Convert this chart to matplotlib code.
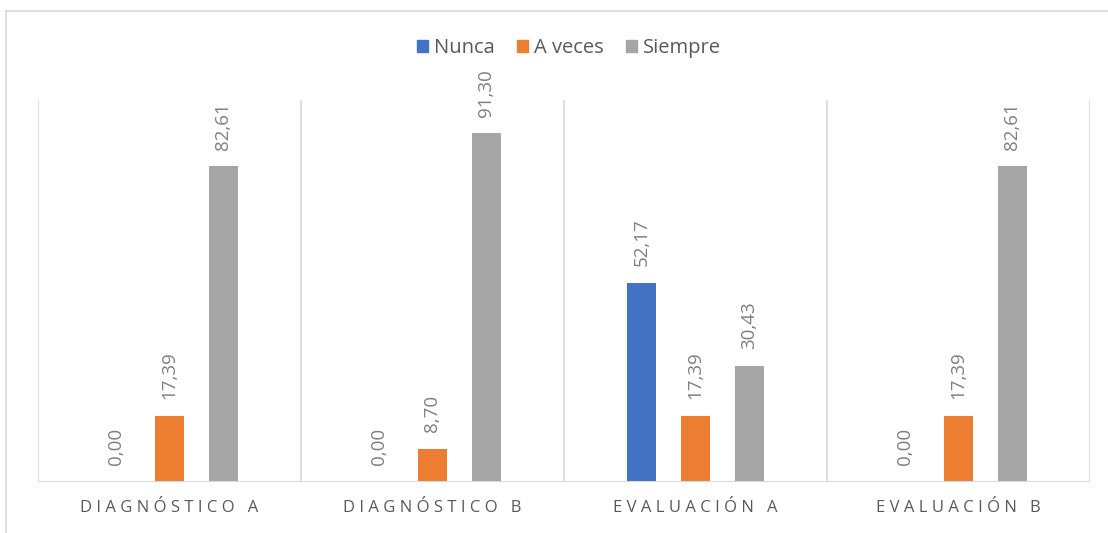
import matplotlib
matplotlib.use("Agg")
import matplotlib.pyplot as plt
import numpy as np
from matplotlib.lines import Line2D
from matplotlib.patches import Patch

categories = ["DIAGNÓSTICO A", "DIAGNÓSTICO B", "EVALUACIÓN A", "EVALUACIÓN B"]
series_names = ["Nunca", "A veces", "Siempre"]
nunca = [0.00, 0.00, 52.17, 0.00]
a_veces = [17.39, 8.70, 17.39, 17.39]
siempre = [82.61, 91.30, 30.43, 82.61]
colors = ["#4472C4", "#ED7D31", "#A5A5A5"]

plt.rcParams['font.family'] = ['Open Sans', 'DejaVu Sans']
W, H = 1108, 533
fig = plt.figure(figsize=(W / 100, H / 100), dpi=100)
ax = fig.add_axes([38 / W, 1 - 482 / H, (1090 - 38) / W, (482 - 100) / H])

x = np.arange(len(categories))
bw = 0.11
off = 0.205
txt = "#595959"
lbl = "#7F7F7F"
for i, (vals, c) in enumerate(zip([nunca, a_veces, siempre], colors)):
    pos = x + (i - 1) * off
    ax.bar(pos, vals, width=bw, color=c, zorder=3)
    for p, v in zip(pos, vals):
        ax.annotate(f"{v:.2f}".replace(".", ","), (p, v), xytext=(0, 12),
                    textcoords="offset points", rotation=90,
                    ha="center", va="bottom", fontsize=13.5, color=lbl)

ax.set_xlim(-0.5, len(categories) - 0.5)
ax.set_ylim(0, 100)
for b in np.arange(-0.5, len(categories), 1.0):
    ax.axvline(b, color="#D9D9D9", lw=1.2, zorder=1)
for s in ax.spines.values():
    s.set_visible(False)
ax.axhline(0, color="#D9D9D9", lw=1.5, zorder=4)
ax.set_yticks([])
ax.set_xticks(x)
ax.set_xticklabels([" ".join(list(c)) for c in categories], fontsize=12, color=txt)
ax.tick_params(axis="x", length=0, pad=13)

handles = [Patch(color=c) for c in colors]
fig.legend(handles, series_names, loc="center", bbox_to_anchor=(569 / W, 1 - 48 / H),
           ncol=3, frameon=False, fontsize=14.5, handlelength=0.55, handleheight=0.55,
           handletextpad=0.3, columnspacing=1.1, labelcolor=txt)

# outer chart border
fig.add_artist(Line2D([6 / W, 1], [1 - 11 / H, 1 - 11 / H], color="#D9D9D9", lw=1.2))
fig.add_artist(Line2D([6 / W, 6 / W], [0, 1 - 11 / H], color="#D9D9D9", lw=1.2))

fig.savefig("out.png", dpi=100)
